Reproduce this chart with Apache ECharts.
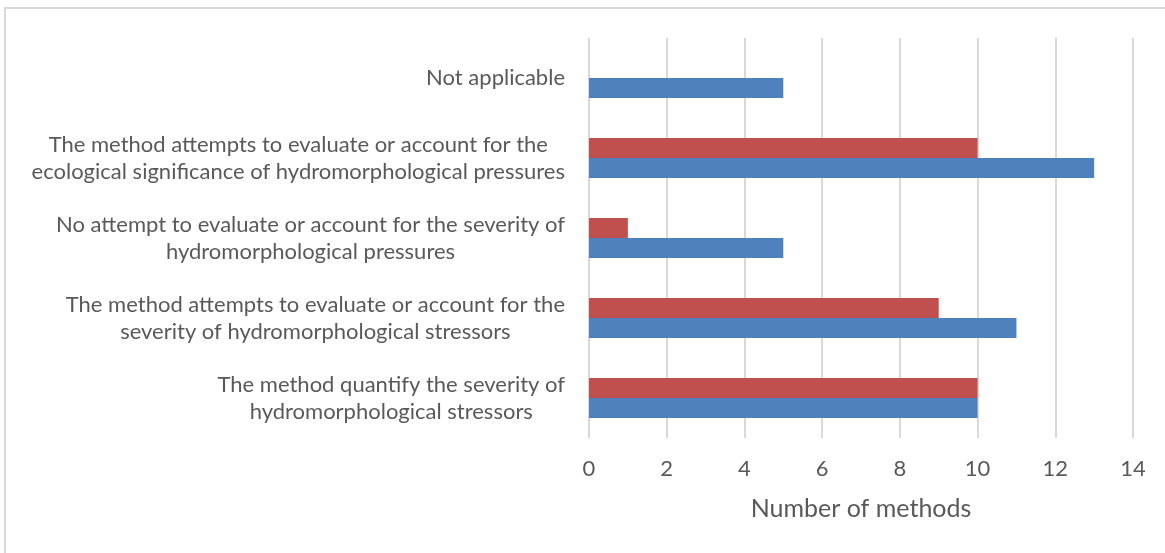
<!DOCTYPE html>
<html>
<head>
<meta charset="utf-8">
<script src="https://cdn.jsdelivr.net/npm/echarts@6/dist/echarts.min.js"></script>
<style>
  html, body { margin: 0; padding: 0; background: #fff; }
  #main { width: 1165px; height: 553px; }
</style>
</head>
<body>
<div id="main"></div>
<script>
// categories, bottom to top (as on the y axis)
var categories = [
  'The method quantify the severity of\nhydromorphological stressors',
  'The method attempts to evaluate or account for the\nseverity of hydromorphological stressors',
  'No attempt to evaluate or account for the severity of\nhydromorphological pressures',
  'The method attempts to evaluate or account for the\necological significance of hydromorphological pressures',
  'Not applicable'
];
var blueValues = [10, 11, 5, 13, 5];
var redValues = [10, 9, 1, 10, null];
var xTicks = [0, 14, 2]; // min, max, step

var chart = echarts.init(document.getElementById('main'));

var option = {
  backgroundColor: '#fff',
  animation: false,
  textStyle: { fontFamily: 'Lato' },
  graphic: [{
    type: 'rect',
    shape: { x: 5, y: 8, width: 1170, height: 560 },
    style: { fill: 'none', stroke: '#d9d9d9', lineWidth: 2 }
  }],
  grid: {
    left: 589,
    right: 32,
    top: 38,
    bottom: 115
  },
  xAxis: {
    type: 'value',
    min: xTicks[0],
    max: xTicks[1],
    interval: xTicks[2],
    name: 'Number of methods',
    nameLocation: 'middle',
    nameGap: 58,
    nameTextStyle: { color: '#595959', fontSize: 25 },
    axisLine: { show: false },
    axisTick: { show: false },
    axisLabel: { color: '#595959', fontSize: 22, margin: 20 },
    splitLine: { lineStyle: { color: '#d9d9d9', width: 2 } }
  },
  yAxis: {
    type: 'category',
    data: categories,
    axisLine: { show: false },
    axisTick: { show: false },
    axisLabel: {
      color: '#595959',
      fontSize: 22,
      lineHeight: 27,
      align: 'right',
      margin: 24,
      formatter: function (v) {
        // centre each line inside the right-aligned block
        return v.split('\n').map(function (s) { return '{c|' + s + '}'; }).join('\n');
      },
      rich: {
        c: { align: 'center', color: '#595959', fontSize: 22, lineHeight: 27, fontFamily: 'Lato' }
      }
    }
  },
  series: [{
    name: 'red',
    type: 'bar',
    data: redValues,
    barGap: '0%',
    barCategoryGap: '50%',
    itemStyle: { color: '#c0504d' }
  }, {
    name: 'blue',
    type: 'bar',
    data: blueValues,
    barGap: '0%',
    barCategoryGap: '50%',
    itemStyle: { color: '#4f81bd' }
  }]
};

chart.setOption(option);
</script>
</body>
</html>
